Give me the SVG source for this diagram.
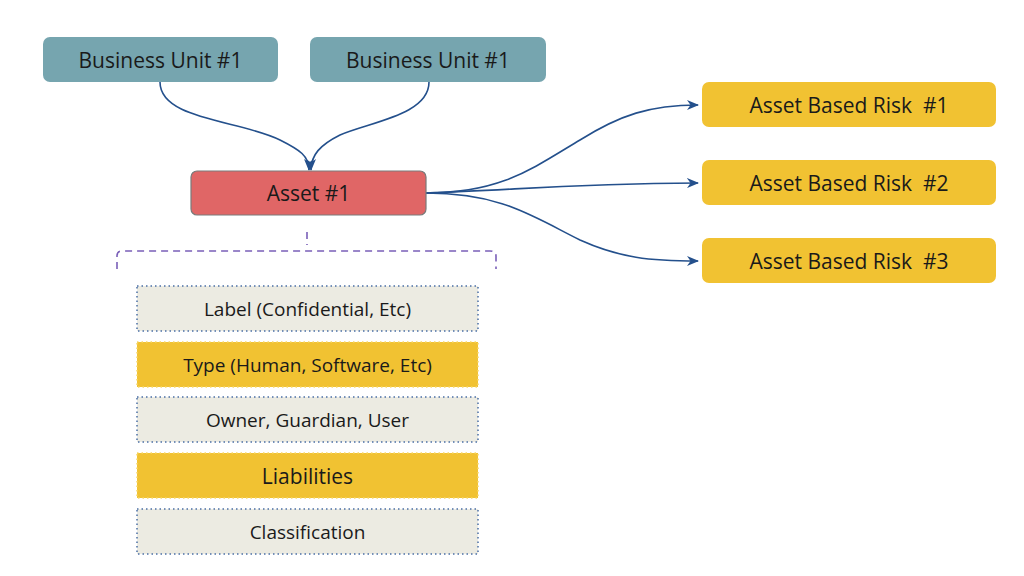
<svg xmlns="http://www.w3.org/2000/svg" width="1024" height="576" viewBox="0 0 1024 576">
<style>
text{font-family:"Open Sans","Noto Sans","Liberation Sans",sans-serif;fill:#1a1a1a;text-anchor:middle;dominant-baseline:central}
.bu{fill:#76a5af}
.risk{fill:#f1c232}
.big{font-size:21px}
.sm{font-size:19px}
.gray{fill:#ecebe2;stroke:#4a6fa5;stroke-width:1.5;stroke-dasharray:1.5 3}
.yel{fill:#f1c232;stroke:#f6d86a;stroke-width:1.5;stroke-dasharray:1.5 3}
.conn{fill:none;stroke:#24508c;stroke-width:1.6}
</style>
<defs>
<marker id="ah" viewBox="0 0 12 10" refX="11" refY="5" markerWidth="12" markerHeight="10" markerUnits="userSpaceOnUse" orient="auto">
<path d="M0,0 L12,5 L0,10 L3.5,5 z" fill="#24508c"/>
</marker>
</defs>
<rect width="1024" height="576" fill="#ffffff"/>
<g id="connectors">
<path class="conn" marker-end="url(#ah)" d="M160,82 C160,120 240,120 280,140 C300,150 309,156 309,170"/>
<path class="conn" marker-end="url(#ah)" d="M429,82 C429,115 370,122 340,135 C320,145 311,155 311,170"/>
<path class="conn" marker-end="url(#ah)" d="M426,193 C500,193 530,170 580,140 C620,115 650,105 698,105"/>
<path class="conn" marker-end="url(#ah)" d="M426,193 C520,190 560,184 698,183"/>
<path class="conn" marker-end="url(#ah)" d="M426,193 C500,193 530,215 580,240 C620,258 650,261 698,261"/>
<path fill="none" stroke="#7a5fb8" stroke-width="1.6" stroke-dasharray="7 5" d="M307,232 V245 M117,269 V256 Q117,251 122,251 H490 Q496,251 496,256 V269"/>
</g>
<g id="bu1"><rect class="bu" x="43" y="37" width="235" height="45" rx="7"/><text class="big" x="160.5" y="59.5">Business Unit #1</text></g>
<g id="bu2"><rect class="bu" x="310" y="37" width="236" height="45" rx="7"/><text class="big" x="428" y="59.5">Business Unit #1</text></g>
<g id="asset"><rect x="191" y="171" width="235" height="44" rx="6" fill="#e06666" stroke="#7a7a7a" stroke-width="1.2"/><text class="big" x="308.5" y="193">Asset #1</text></g>
<g id="risk1"><rect class="risk" x="702" y="82" width="294" height="45" rx="7"/><text class="big" x="849" y="104.5" xml:space="preserve">Asset Based Risk  #1</text></g>
<g id="risk2"><rect class="risk" x="702" y="160" width="294" height="45" rx="7"/><text class="big" x="849" y="182.5" xml:space="preserve">Asset Based Risk  #2</text></g>
<g id="risk3"><rect class="risk" x="702" y="238" width="294" height="45" rx="7"/><text class="big" x="849" y="260.5" xml:space="preserve">Asset Based Risk  #3</text></g>
<g id="label"><rect class="gray" x="137" y="286" width="341" height="45"/><text class="sm" x="307.5" y="308.5">Label (Confidential, Etc)</text></g>
<g id="type"><rect class="yel" x="137" y="342" width="341" height="45"/><text class="sm" x="307.5" y="364.5">Type (Human, Software, Etc)</text></g>
<g id="owner"><rect class="gray" x="137" y="397" width="341" height="45"/><text class="sm" x="307.5" y="419.5">Owner, Guardian, User</text></g>
<g id="liab"><rect class="yel" x="137" y="453" width="341" height="45"/><text class="big" x="307.5" y="475.5">Liabilities</text></g>
<g id="class"><rect class="gray" x="137" y="509" width="341" height="45"/><text class="sm" x="307.5" y="531.5">Classification</text></g>
</svg>
